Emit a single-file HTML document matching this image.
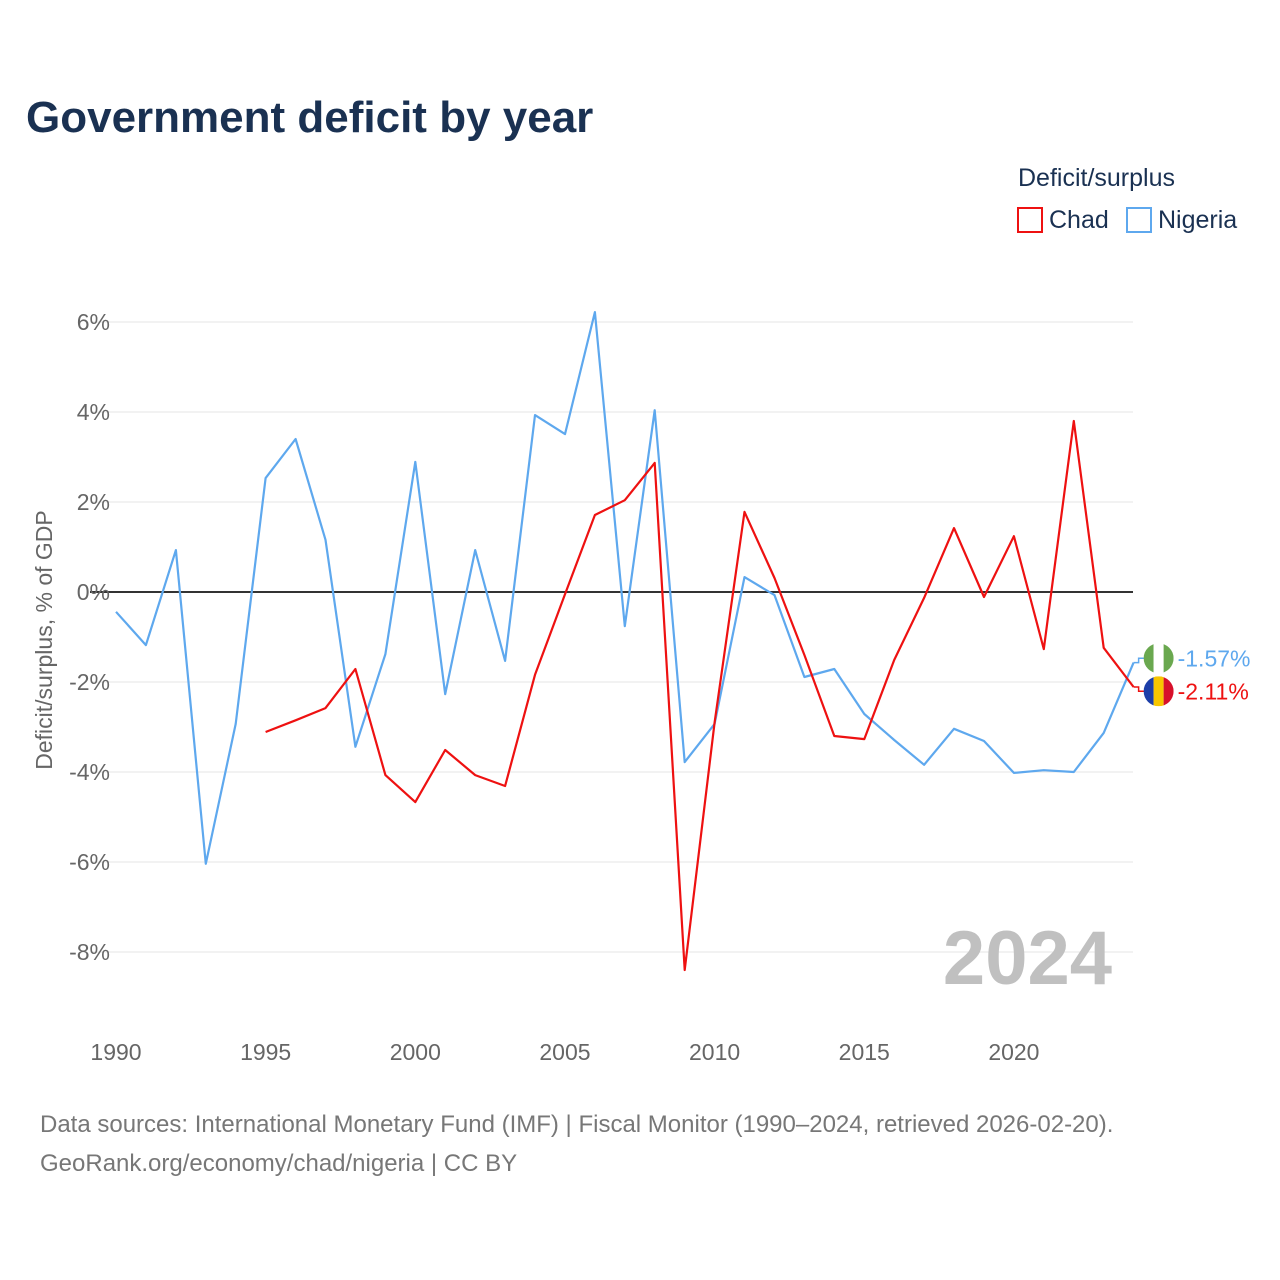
<!DOCTYPE html>
<html><head><meta charset="utf-8"><style>
body{margin:0;background:#fff;font-family:"Liberation Sans",sans-serif;}
svg{display:block}
</style></head><body>
<svg id="chart" width="1280" height="1280" xmlns="http://www.w3.org/2000/svg">
<text x="26" y="132" font-size="44" font-weight="bold" fill="#1a3152">Government deficit by year</text>
<text x="1018" y="186" font-size="25" fill="#1a3152">Deficit/surplus</text>
<g><rect x="1018" y="208" width="24" height="24" fill="none" stroke="#ee1111" stroke-width="2"/><text x="1049" y="228" font-size="25" fill="#1a3152">Chad</text></g>
<g><rect x="1127" y="208" width="24" height="24" fill="none" stroke="#5ea8ee" stroke-width="2"/><text x="1158" y="228" font-size="25" fill="#1a3152">Nigeria</text></g>
<g id="grid"></g>
<g id="axes"></g>
<text x="1112" y="984" font-size="76" font-weight="bold" fill="#c0c0c0" text-anchor="end">2024</text>
<text transform="translate(52,640) rotate(-90)" font-size="23" fill="#666" text-anchor="middle">Deficit/surplus, % of GDP</text>
<g id="series"></g>
<text x="40" y="1132" font-size="24" fill="#777">Data sources: International Monetary Fund (IMF) | Fiscal Monitor (1990–2024, retrieved 2026-02-20).</text>
<text x="40" y="1171" font-size="24" fill="#777">GeoRank.org/economy/chad/nigeria | CC BY</text>
</svg>
<script>
const yearsNigeria = [1990,1991,1992,1993,1994,1995,1996,1997,1998,1999,2000,2001,2002,2003,2004,2005,2006,2007,2008,2009,2010,2011,2012,2013,2014,2015,2016,2017,2018,2019,2020,2021,2022,2023,2024];
const valuesNigeria = [-0.44,-1.18,0.93,-6.04,-2.93,2.53,3.4,1.16,-3.44,-1.38,2.89,-2.27,0.93,-1.53,3.93,3.51,6.22,-0.76,4.04,-3.78,-2.93,0.33,-0.07,-1.89,-1.71,-2.71,-3.29,-3.84,-3.04,-3.31,-4.02,-3.96,-4.0,-3.13,-1.57];
const yearsChad = [1995,1996,1997,1998,1999,2000,2001,2002,2003,2004,2005,2006,2007,2008,2009,2010,2011,2012,2013,2014,2015,2016,2017,2018,2019,2020,2021,2022,2023,2024];
const valuesChad = [-3.11,-2.85,-2.58,-1.71,-4.07,-4.67,-3.51,-4.07,-4.31,-1.84,-0.05,1.71,2.04,2.87,-8.4,-2.9,1.78,0.31,-1.4,-3.2,-3.27,-1.51,-0.13,1.42,-0.11,1.24,-1.27,3.8,-1.24,-2.11];
const yTicks = [6,4,2,0,-2,-4,-6,-8];
const xTicks = [1990,1995,2000,2005,2010,2015,2020];

const NS="http://www.w3.org/2000/svg";
const xS = y => 116 + (y-1990)*29.93;
const yS = v => 592 - v*45;
function mk(tag, attrs, parent){const e=document.createElementNS(NS,tag);for(const k in attrs)e.setAttribute(k,attrs[k]);parent.appendChild(e);return e;}
const grid=document.getElementById('grid'), axes=document.getElementById('axes'), series=document.getElementById('series');
yTicks.forEach(t=>{
  const l=mk('line',{x1:90,x2:1133,y1:yS(t),y2:yS(t),stroke:t===0?'#333':'#e6e6e6','stroke-width':t===0?2:1},grid);
  
  
  const tx=mk('text',{x:110,y:yS(t)+8,'font-size':23,fill:'#666','text-anchor':'end'},axes);
  tx.textContent=t+'%';
  
  
});
xTicks.forEach(t=>{
  const tx=mk('text',{x:xS(t),y:1060,'font-size':23,fill:'#666','text-anchor':'middle'},axes);
  tx.textContent=t;
  
  
});
function line(years, vals, color, name){
  const d=years.map((y,i)=>(i?'L':'M')+xS(y).toFixed(1)+','+yS(vals[i]).toFixed(1)).join('');
  const p=mk('path',{d:d,fill:'none',stroke:color,'stroke-width':2.2,'stroke-linejoin':'round'},series);
  
  
}
line(yearsNigeria, valuesNigeria, '#5ea8ee', 'nigeria-line');
line(yearsChad, valuesChad, '#ee1111', 'chad-line');
const vN=valuesNigeria[valuesNigeria.length-1], vC=valuesChad[valuesChad.length-1];
const mid=(yS(vN)+yS(vC))/2;
const topIsN = vN>=vC;
function endLabel(val, color, flag, name, ly){
  const x=xS(2024), y=yS(val), cx=x+25;
  mk('path',{d:'M'+x+','+y+'L'+(x+5)+','+y+'L'+(x+5)+','+ly+'L'+(cx-14)+','+ly,fill:'none',stroke:color,'stroke-width':1.5},series);
  const g=mk('g',{},series);
  
  
  const cid='c'+name;
  const cp=mk('clipPath',{id:cid},g); mk('circle',{cx:cx,cy:ly,r:15},cp);
  flag.forEach((c,i)=>mk('rect',{x:cx-15+i*10,y:ly-15,width:10,height:30,fill:c,'clip-path':'url(#'+cid+')'},g));
  const t=mk('text',{x:cx+19,y:ly+8,'font-size':23,fill:color},series);
  t.textContent=val.toFixed(2)+'%';
  
  
}
endLabel(vN, '#5ea8ee', ['#6aa84f','#ffffff','#6aa84f'], 'nigeria', topIsN?mid-16.5:mid+16.5);
endLabel(vC, '#ee1111', ['#1c3ea8','#f7c600','#d7102b'], 'chad', topIsN?mid+16.5:mid-16.5);
</script>
</body></html>
